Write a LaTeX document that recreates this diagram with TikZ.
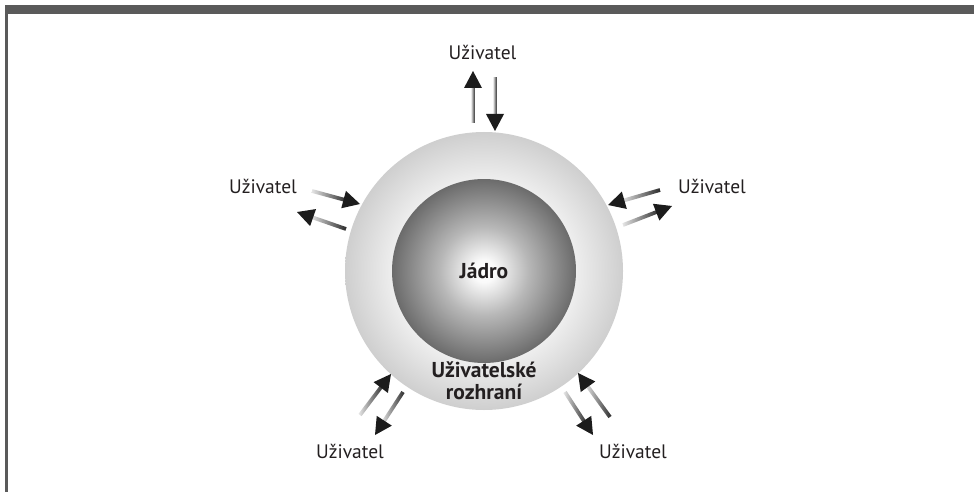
\documentclass[tikz,border=0pt]{standalone}
\usepackage{fontspec}
\setmainfont{PT Sans}
\usetikzlibrary{calc}

\definecolor{framegray}{HTML}{5A5A5A}
\definecolor{shaftlight}{HTML}{E6E6E6}
\definecolor{shaftdark}{HTML}{2A2A2A}
\definecolor{headblack}{HTML}{1C1C1C}
\definecolor{textgray}{HTML}{231F20}

% shading of the core disc: bright centre, dark rim
\pgfdeclareradialshading{coreshade}{\pgfpoint{0bp}{0bp}}{%
  rgb(0bp)=(1,1,1); rgb(3bp)=(0.98,0.98,0.98); rgb(12bp)=(0.72,0.72,0.72);
  rgb(25bp)=(0.42,0.42,0.42); rgb(50bp)=(0.42,0.42,0.42)}
% shading of the interface ring: pale inside, grey rim
\pgfdeclareradialshading{ringshade}{\pgfpoint{0bp}{0bp}}{%
  rgb(0bp)=(0.96,0.96,0.96); rgb(16bp)=(0.94,0.94,0.94);
  rgb(25bp)=(0.81,0.81,0.81); rgb(50bp)=(0.81,0.81,0.81)}

% arrow whose shaft fades from light (tail) to dark (head)
\newcommand\gradarrow[2]{%
  \pgfmathanglebetweenpoints{\pgfpointanchor{#1}{center}}{\pgfpointanchor{#2}{center}}%
  \edef\arrang{\pgfmathresult}%
  \pgfpointdiff{\pgfpointanchor{#1}{center}}{\pgfpointanchor{#2}{center}}%
  \pgfgetlastxy{\arrdx}{\arrdy}%
  \pgfmathsetmacro\arrlen{veclen(\arrdx,\arrdy)}%
  \begin{scope}[shift={(#1)}, rotate=\arrang, x=1pt, y=1pt]
    \shade[left color=shaftlight, right color=shaftdark]
      (0,-1.9) rectangle (\arrlen-14,1.9);
    \fill[headblack] (\arrlen,0) -- (\arrlen-17,9) -- (\arrlen-17,-9) -- cycle;
  \end{scope}}

\tikzset{
  lbl/.style={font=\fontsize{19.5}{22}\selectfont, text=textgray, inner sep=0pt, anchor=base},
  blbl/.style={font=\fontsize{21.5}{24}\selectfont\bfseries, text=textgray, inner sep=0pt, anchor=base},
  disc/.style={circle, inner sep=0pt, draw=none, shade}
}

\begin{document}
\begin{tikzpicture}[x=1pt, y=-1pt]
  \useasboundingbox (0,0) rectangle (974,492);
  % frame: top bar and left rule
  \fill[framegray] (5,5) rectangle (974,14.3);
  \fill[framegray] (5,5) rectangle (8,492);

  % interface ring and core
  \node[disc, shading=ringshade, minimum size=278pt] (ring) at (484,271) {};
  \node[disc, shading=coreshade, minimum size=184pt] (core) at (484,271) {};

  \node[blbl] (coreText) at (484,278) {Jádro};
  \node[blbl] (uiText1) at (484,377) {Uživatelské};
  \node[blbl] (uiText2) at (484,399) {rozhraní};

  % users
  \node[lbl] (uTop) at (482.5,60) {Uživatel};
  \node[lbl] (uLeft) at (263,193) {Uživatel};
  \node[lbl] (uRight) at (712,193) {Uživatel};
  \node[lbl] (uBL) at (350,458) {Uživatel};
  \node[lbl] (uBR) at (633,458) {Uživatel};

  % arrow end points (tail, tip)
  \coordinate (tOutA) at (473,123); \coordinate (tOutB) at (473,71);
  \coordinate (tInA)  at (495,78);  \coordinate (tInB)  at (495,131);
  \coordinate (lInA)  at (312,191); \coordinate (lInB)  at (360,204);
  \coordinate (lOutA) at (346,229); \coordinate (lOutB) at (297,212);
  \coordinate (rInA)  at (660,190); \coordinate (rInB)  at (608,205);
  \coordinate (rOutA) at (623,225); \coordinate (rOutB) at (672,206);
  \coordinate (blInA) at (360,415); \coordinate (blInB) at (391,374);
  \coordinate (blOutA) at (403,392); \coordinate (blOutB) at (375,435);
  \coordinate (brInA) at (610,417); \coordinate (brInB) at (578,373);
  \coordinate (brOutA) at (565,392); \coordinate (brOutB) at (593,435);

  \gradarrow{tOutA}{tOutB}
  \gradarrow{tInA}{tInB}
  \gradarrow{lInA}{lInB}
  \gradarrow{lOutA}{lOutB}
  \gradarrow{rInA}{rInB}
  \gradarrow{rOutA}{rOutB}
  \gradarrow{blInA}{blInB}
  \gradarrow{blOutA}{blOutB}
  \gradarrow{brInA}{brInB}
  \gradarrow{brOutA}{brOutB}
\end{tikzpicture}
\end{document}
